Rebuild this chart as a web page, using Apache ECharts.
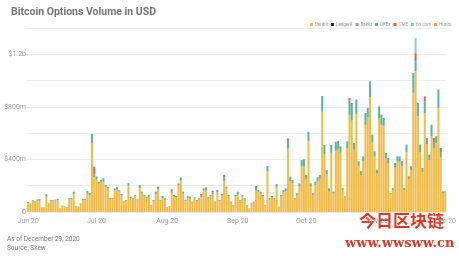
<!DOCTYPE html>
<html><head><meta charset="utf-8">
<script src="https://cdn.jsdelivr.net/npm/echarts@6/dist/echarts.min.js"></script>
<style>html,body{margin:0;padding:0;background:#fff}#c{width:459px;height:256px}</style>
</head><body><div id="c"></div>
<script>
// Daily volume (USD millions), 2020-06-29 .. 2020-12-29
const startDate = '2020-06-29';
const dayCount = 184;
const tickIndex = [0, 30, 61, 92, 122, 153, 183];
const tickLabels = ['Jun 20', 'Jul 20', 'Aug 20', 'Sep 20', 'Oct 20', 'Nov 20', 'Dec 20'];
const yTickLabels = {0: '0', 400: '$400m', 800: '$800m', 1200: '$1.2b'};
const seriesNames = ['Deribit', 'LedgerX', 'Bakkt', 'OKEx', 'CME', 'bit.com', 'Huobi'];

const deribit = [67,60,82,79,87,85,32,32,117,60,82,82,87,90,25,45,41,32,95,95,135,41,36,59,90,90,138,130,
524,265,250,215,230,231,190,178,97,97,165,175,155,127,74,82,200,
107,96,120,88,183,143,120,107,115,48,83,137,173,83,107,96,32,42,146,118,112,203,239,140,83,107,107,71,102,83,94,112,165,166,102,118,135,71,152,83,125,237,178,120,71,
48,117,137,83,117,94,48,25,65,71,163,152,140,119,48,310,94,110,94,188,37,117,149,160,481,234,219,94,127,193,346,346,252,541,193,127,206,234,252,763,440,285,160,445,140,465,
480,450,168,109,483,738,695,475,745,351,280,384,663,722,875,529,422,292,714,661,656,409,371,133,168,338,384,384,351,168,453,247,318,908,1071,730,453,305,750,513,396,575,483,526,791,417,142,147];
const okex = [8,5,8,6,8,15,3,3,18,5,8,8,8,10,3,5,4,3,10,10,20,4,4,6,10,10,22,15,
70,20,20,15,15,25,15,12,8,8,15,15,12,10,6,8,20,
10,8,10,8,22,12,10,10,15,5,8,18,20,8,15,8,4,4,15,12,10,15,25,15,8,15,10,8,10,8,10,10,15,22,10,12,12,8,15,8,12,25,15,10,8,
5,12,18,8,12,10,5,3,6,8,20,15,15,10,5,40,10,12,10,25,4,12,18,20,80,35,25,10,15,25,50,55,30,70,25,15,25,30,30,120,70,35,20,65,15,70,
60,50,15,10,55,110,120,50,110,35,30,40,90,70,120,60,40,30,90,80,60,40,40,12,15,35,40,40,35,15,60,25,30,150,76,100,60,30,90,50,40,90,50,50,140,40,15,10];
const cme = {29: 60, 63: 12, 76: 15, 81: 15, 86: 20, 100: 15, 141: 20, 142: 15, 170: 63, 174: 40, 178: 30, 181: 30};
const bitcom = {170: 114};
const ledgerx = [];
const bakkt = [];
const huobi = [];

const categories = [];
{
  const d0 = new Date(startDate + 'T00:00:00Z');
  for (let i = 0; i < dayCount; i++) {
    const d = new Date(d0.getTime() + i * 86400000);
    categories.push(d.toISOString().slice(0, 10));
  }
}
const fromSparse = (obj) => categories.map((_, i) => (obj[i] !== undefined ? obj[i] : 0));

const colors = {
  'Deribit': '#F5BA45', 'LedgerX': '#222222', 'Bakkt': '#8E9BA8', 'OKEx': '#55B49A',
  'CME': '#DE5F58', 'bit.com': '#86D0CB', 'Huobi': '#F09A3E'
};
const dataMap = {
  'Deribit': deribit, 'LedgerX': ledgerx, 'Bakkt': bakkt, 'OKEx': okex,
  'CME': fromSparse(cme), 'bit.com': fromSparse(bitcom), 'Huobi': huobi
};

const chart = echarts.init(document.getElementById('c'), null, {renderer: 'canvas'});
chart.setOption({
  animation: false,
  backgroundColor: '#fff',
  title: {
    text: 'Bitcoin Options Volume in USD', left: 6, top: 2,
    textStyle: {fontFamily: 'Roboto', fontWeight: 'bold', fontSize: 10.5, color: '#747474'}
  },
  legend: {
    data: seriesNames, right: 3, top: 17, itemWidth: 3, itemHeight: 3, itemGap: 3,
    icon: 'rect',
    textStyle: {fontSize: 4.5, color: '#999', fontFamily: 'Roboto', padding: [0, 0, 0, -3]}
  },
  grid: {left: 27, right: 8, top: 28, bottom: 44},
  xAxis: {
    type: 'category', data: categories,
    axisLine: {show: false}, axisTick: {show: false},
    axisLabel: {
      interval: (idx) => tickIndex.includes(idx),
      formatter: (v, idx) => tickLabels[tickIndex.indexOf(idx)] || '',
      fontSize: 7, color: '#9a9a9a', fontFamily: 'Roboto', margin: 6
    }
  },
  yAxis: {
    type: 'value', min: 0, max: 1400, interval: 200,
    axisLine: {show: false}, axisTick: {show: false},
    splitLine: {lineStyle: {color: '#ececec', width: 1}},
    axisLabel: {
      formatter: (v) => yTickLabels[v] || '',
      fontSize: 7, color: '#9a9a9a', fontFamily: 'Roboto', margin: 1
    }
  },
  series: seriesNames.map(n => ({
    name: n, type: 'bar', stack: 'v', data: dataMap[n],
    itemStyle: {color: colors[n]}, barCategoryGap: '12%'
  })),
  graphic: [
    {type: 'text', left: 7, top: 236, style: {text: 'As of December 29, 2020', font: '6.5px Roboto', fill: '#777'}},
    {type: 'text', left: 7, top: 245, style: {text: 'Source: Skew', font: '6.5px Roboto', fill: '#777'}},
    {type: 'text', left: 359, top: 212, style: {text: '今日区块链', font: 'bold 17px "Noto Sans CJK SC"', fill: '#E8331F'}},
    {type: 'text', left: 345, top: 237, style: {text: 'www.wwsww.cn', font: 'bold 13px "DejaVu Serif"', fill: '#E8331F'}}
  ]
});
</script></body></html>
